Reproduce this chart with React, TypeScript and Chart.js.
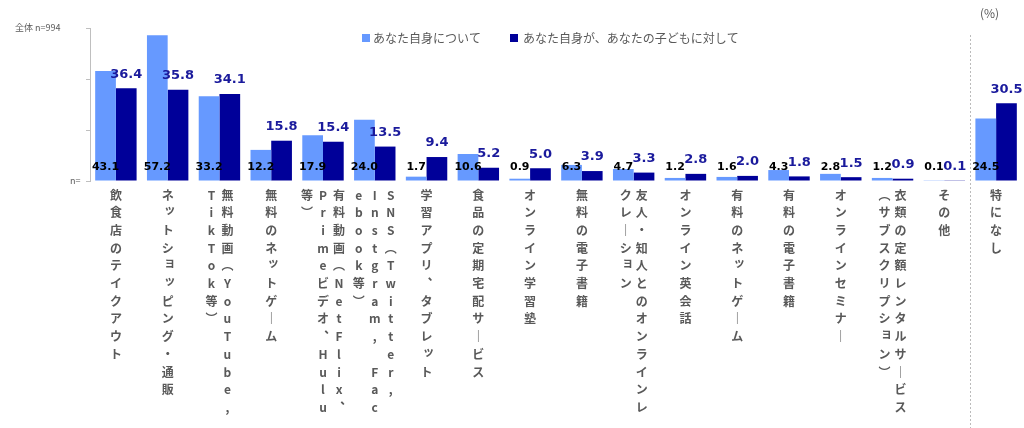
import { useEffect, useRef } from "react";
import { Chart, registerables } from "chart.js";

Chart.register(...registerables);

// Each category label is given as its vertical columns (right-most column first)
const categories: string[][] = [
  ["飲食店のテイクアウト"],
  ["ネットショッピング・通販"],
  ["無料動画（YouTube,", "TikTok等）"],
  ["無料のネットゲーム"],
  ["有料動画（NetFlix、", "Primeビデオ、Hulu", "等）"],
  ["SNS（Twitter,", "Instgram, Fac", "ebook等）"],
  ["学習アプリ、タブレット"],
  ["食品の定期宅配サービス"],
  ["オンライン学習塾"],
  ["無料の電子書籍"],
  ["友人・知人とのオンラインレ", "クレーション"],
  ["オンライン英会話"],
  ["有料のネットゲーム"],
  ["有料の電子書籍"],
  ["オンラインセミナー"],
  ["衣類の定額レンタルサービス", "（サブスクリプション）"],
  ["その他"],
  ["特になし"],
];

const seriesNames = ["あなた自身について", "あなた自身が、あなたの子どもに対して"];

const selfValues = [43.1, 57.2, 33.2, 12.2, 17.9, 24.0, 1.7, 10.6, 0.9, 6.3, 4.7, 1.2, 1.6, 4.3, 2.8, 1.2, 0.1, 24.5];
const childValues = [36.4, 35.8, 34.1, 15.8, 15.4, 13.5, 9.4, 5.2, 5.0, 3.9, 3.3, 2.8, 2.0, 1.8, 1.5, 0.9, 0.1, 30.5];

const yMin = 0;
const yMax = 60;
const yStep = 20;

const sampleNote = "全体 n=994";
const baseNote = "n=";
const unitNote = "(%)";

const LIGHT = "#6699FF";
const DARK = "#000099";
const DARK_TEXT = "#1A1A9C";
const GRAY_TEXT = "#595959";

const verticalMap: Record<string, string> = {
  "（": "︵",
  "）": "︶",
  "ー": "｜",
  "、": "︑",
};
const smallKana = "ァィゥェォッャュョヮっゃゅょ";

const overlay = {
  id: "overlay",
  afterDatasetsDraw(chart: any) {
    const ctx = chart.ctx as CanvasRenderingContext2D;
    const ys = chart.scales.y;
    const xs = chart.scales.x;
    const base = ys.getPixelForValue(0);
    const m0 = chart.getDatasetMeta(0);
    const m1 = chart.getDatasetMeta(1);
    ctx.save();
    ctx.textAlign = "center";
    ctx.textBaseline = "middle";
    // light series labels at the bottom of the bar
    ctx.font = 'bold 11px "DejaVu Sans"';
    ctx.fillStyle = "#000000";
    m0.data.forEach((bar: any, i: number) => {
      ctx.fillText(selfValues[i].toFixed(1), bar.x, base - 14);
    });
    // dark series labels above the bar
    ctx.font = 'bold 13px "DejaVu Sans"';
    ctx.fillStyle = DARK_TEXT;
    m1.data.forEach((bar: any, i: number) => {
      ctx.fillText(childValues[i].toFixed(1), bar.x, bar.y - 14);
    });

    // vertical category labels
    ctx.font = 'bold 12px "Noto Sans CJK JP"';
    ctx.fillStyle = GRAY_TEXT;
    const rowStep = 17.7;
    const colStep = 16;
    categories.forEach((cols, i) => {
      const cx = xs.getPixelForValue(i);
      const n = cols.length;
      cols.forEach((col, k) => {
        const x = cx + ((n - 1) / 2 - k) * colStep;
        Array.from(col).forEach((ch, r) => {
          const c = verticalMap[ch] ?? ch;
          if (c === " ") return;
          let dx = 0;
          let dy = 0;
          if (smallKana.includes(ch)) {
            dx = 2;
            dy = -3;
          }
          ctx.fillText(c, x + dx, base + 14 + r * rowStep + dy);
        });
      });
    });

    // dotted separator before the last category
    const sepX = Math.round((xs.getPixelForValue(categories.length - 2) + xs.getPixelForValue(categories.length - 1)) / 2) + 0.5;
    ctx.strokeStyle = "#BBBBBB";
    ctx.lineWidth = 1;
    ctx.setLineDash([2, 2]);
    ctx.beginPath();
    ctx.moveTo(sepX, 35);
    ctx.lineTo(sepX, chart.height);
    ctx.stroke();
    ctx.setLineDash([]);

    // notes
    ctx.textAlign = "left";
    ctx.font = '9px "Noto Sans CJK JP"';
    ctx.fillStyle = GRAY_TEXT;
    ctx.fillText(sampleNote, 15, ys.getPixelForValue(yMax));
    ctx.fillText(baseNote, 70, base);
    ctx.font = '12px "Noto Sans CJK JP"';
    ctx.fillText(unitNote, 980, 13);

    // legend
    ctx.font = '12px "Noto Sans CJK JP"';
    const ly = 38;
    ctx.fillStyle = LIGHT;
    ctx.fillRect(362, ly - 4, 8, 8);
    ctx.fillStyle = GRAY_TEXT;
    ctx.fillText(seriesNames[0], 373, ly);
    ctx.fillStyle = DARK;
    ctx.fillRect(510, ly - 4, 8, 8);
    ctx.fillStyle = GRAY_TEXT;
    ctx.fillText(seriesNames[1], 523, ly);
    ctx.restore();
  },
};

export default function App() {
  const ref = useRef<HTMLCanvasElement | null>(null);
  useEffect(() => {
    if (!ref.current) return;
    const chart = new Chart(ref.current, {
      type: "bar",
      data: {
        labels: categories.map((c) => c.join("")),
        datasets: [
          {
            label: seriesNames[0],
            data: selfValues,
            backgroundColor: LIGHT,
            categoryPercentage: 0.8,
            barPercentage: 1.0,
          },
          {
            label: seriesNames[1],
            data: childValues,
            backgroundColor: DARK,
            categoryPercentage: 0.8,
            barPercentage: 1.0,
          },
        ],
      },
      options: {
        animation: false,
        responsive: true,
        maintainAspectRatio: false,
        layout: { padding: { left: 86, right: 2, top: 28, bottom: 247 } },
        plugins: {
          legend: { display: false },
          tooltip: { enabled: false },
        },
        scales: {
          x: {
            display: false,
          },
          y: {
            min: yMin,
            max: yMax,
            ticks: { stepSize: yStep, display: false },
            grid: {
              drawOnChartArea: false,
              drawTicks: true,
              tickLength: 4,
              color: "#BFBFBF",
            },
            border: { display: true, color: "#BFBFBF" },
          },
        },
      },
      plugins: [overlay],
    });
    return () => chart.destroy();
  }, []);
  return (
    <div style={{ position: "absolute", left: 0, top: 0, width: 1024, height: 428, background: "#fff" }}>
      <canvas ref={ref} />
    </div>
  );
}
